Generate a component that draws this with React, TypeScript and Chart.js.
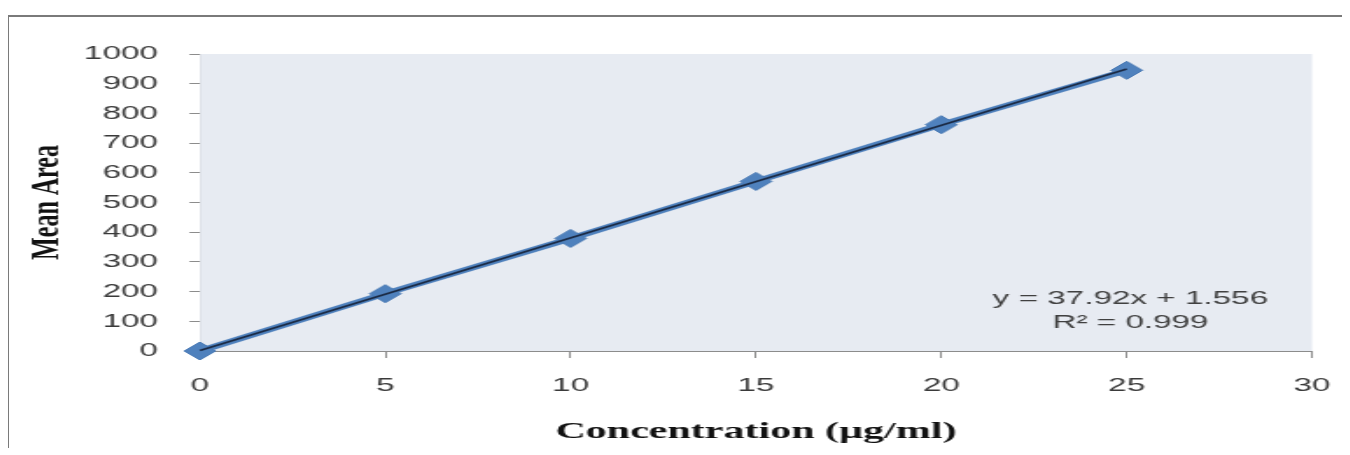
import React, { useEffect, useRef } from "react";
import { Chart, registerables } from "chart.js";

Chart.register(...registerables);

// ---- data ----
const concentrations = [0, 5, 10, 15, 20, 25];
const meanAreas = [0, 193, 379, 571, 762, 945];
const xRange = [0, 30];
const xStep = 5;
const yRange = [0, 1000];
const yStep = 100;
const trendSlope = 37.92;
const trendIntercept = 1.556;
const trendRange = [0, 25];
const equationLines = ["y = 37.92x + 1.556", "R\u00B2 = 0.999"];
const equationAnchor = { x: 25.1, y: [177, 94] };
const xTitle = "Concentration (\u00B5g/ml)";
const yTitle = "Mean Area";

// ---- layout (internal canvas units; canvas is stretched horizontally) ----
const STRETCH = 1.75;
const CANVAS_W = 766;
const CANVAS_H = 438;

const plotBg = {
  id: "plotBg",
  beforeDatasetsDraw(chart: any) {
    const { ctx, chartArea } = chart;
    ctx.save();
    ctx.fillStyle = "#E7EBF2";
    ctx.fillRect(chartArea.left, chartArea.top, chartArea.right - chartArea.left, chartArea.bottom - chartArea.top);
    ctx.restore();
  },
};

const equationPlugin = {
  id: "equation",
  afterDatasetsDraw(chart: any) {
    const { ctx, scales } = chart;
    ctx.save();
    ctx.font = "19px 'Liberation Sans', Arial, sans-serif";
    ctx.fillStyle = "#404040";
    ctx.textAlign = "center";
    ctx.textBaseline = "middle";
    const x = scales.x.getPixelForValue(equationAnchor.x);
    equationLines.forEach((t, i) => {
      ctx.fillText(t, x, scales.y.getPixelForValue(equationAnchor.y[i]));
    });
    ctx.restore();
  },
};

export default function App() {
  const ref = useRef<HTMLCanvasElement | null>(null);

  useEffect(() => {
    document.documentElement.style.overflow = "hidden";
    document.body.style.overflow = "hidden";
    const canvas = ref.current;
    if (!canvas) return;
    const trendData = trendRange.map((x) => ({ x, y: trendSlope * x + trendIntercept }));
    const pointData = concentrations.map((x, i) => ({ x, y: meanAreas[i] }));
    const tickFont = { family: "'Liberation Sans', Arial, sans-serif", size: 19 };
    const plain = (v: any) => String(v);
    const chart = new Chart(canvas, {
      type: "scatter",
      data: {
        datasets: [
          {
            data: trendData,
            showLine: true,
            borderColor: "#1B2A44",
            borderWidth: 1.6,
            pointRadius: 0,
            fill: false,
            clip: false,
          },
          {
            data: pointData,
            showLine: true,
            borderColor: "#4F81BD",
            borderWidth: 5.5,
            backgroundColor: "#4F81BD",
            pointBackgroundColor: "#4F81BD",
            pointBorderColor: "#4A7AB5",
            pointBorderWidth: 1,
            pointStyle: "rectRot",
            pointRadius: 9,
            fill: false,
            clip: false,
          },
        ],
      },
      options: {
        responsive: false,
        animation: false,
        devicePixelRatio: 1,
        layout: { padding: { top: 37, right: 21.4, left: 0, bottom: 0 } },
        plugins: {
          legend: { display: false },
          tooltip: { enabled: false },
        },
        scales: {
          x: {
            type: "linear",
            min: xRange[0],
            max: xRange[1],
            afterFit: (s: any) => {
              s.height = 104;
              s.paddingLeft = 0;
              s.paddingRight = 0;
            },
            ticks: { stepSize: xStep, font: tickFont, color: "#3A3A3A", padding: 16.5, callback: plain },
            grid: { drawOnChartArea: false, drawTicks: true, tickLength: 7, color: "#8C8C8C" },
            border: { color: "#8C8C8C", width: 1 },
            title: {
              display: true,
              text: xTitle,
              color: "#111111",
              font: { family: "'Liberation Serif', 'Times New Roman', serif", size: 24, weight: "bold" },
              padding: { top: 0, bottom: 8.6 },
            },
          },
          y: {
            type: "linear",
            min: yRange[0],
            max: yRange[1],
            afterFit: (s: any) => {
              s.width = 109.1;
            },
            ticks: { stepSize: yStep, font: tickFont, color: "#3A3A3A", padding: 18, callback: plain },
            grid: { drawOnChartArea: false, drawTicks: true, tickLength: 6, color: "#8C8C8C" },
            border: { color: "#8C8C8C", width: 1 },
            title: {
              display: true,
              text: yTitle,
              color: "#111111",
              font: { family: "'Liberation Serif', 'Times New Roman', serif", size: 24, weight: "bold" },
              padding: { top: 7, bottom: 0 },
            },
          },
        },
      },
      plugins: [plotBg, equationPlugin],
    } as any);
    return () => chart.destroy();
  }, []);

  return (
    <div
      style={{
        position: "relative",
        top: 7,
        left: -1,
        width: 1340,
        height: 440,
        boxSizing: "border-box",
        borderTop: "2px solid #7A7A7A",
        borderLeft: "2px solid #7A7A7A",
        overflow: "hidden",
        background: "#FFFFFF",
      }}
    >
      <div
        style={{
          width: CANVAS_W,
          height: CANVAS_H,
          transform: `scaleX(${STRETCH})`,
          transformOrigin: "0 0",
        }}
      >
        <canvas ref={ref} width={CANVAS_W} height={CANVAS_H} />
      </div>
    </div>
  );
}
